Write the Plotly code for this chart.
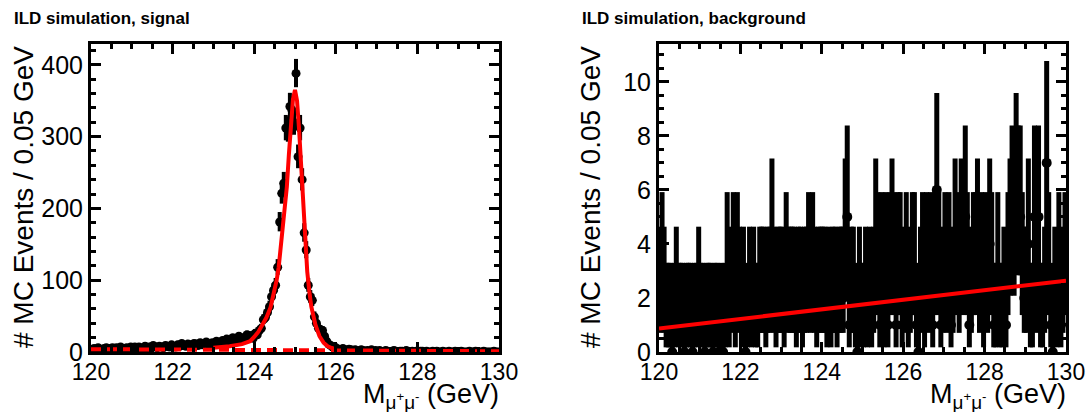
import numpy as np
import plotly.graph_objects as go

W, H = 1088, 412

# ---------------- data ----------------
bin_lo, bin_hi, bin_w = 120.0, 130.0, 0.05

signal_counts = [
    3, 5, 4, 6, 4, 3, 5, 6, 4, 5, 6, 4, 6, 5, 7, 4, 5, 6, 5, 7,
    5, 7, 6, 7, 5, 6, 8, 5, 7, 6, 9, 7, 6, 8, 7, 6, 9, 8, 7, 10,
    8, 7, 10, 8, 12, 9, 8, 11, 10, 8, 12, 11, 9, 13, 10, 12, 14, 11, 10, 13,
    12, 15, 13, 11, 16, 14, 18, 15, 17, 20, 16, 19, 22, 18, 17, 21, 24, 20, 23, 19,
    26, 24, 30, 33, 45, 48, 55, 63, 77, 86, 93, 118, 181, 221, 235, 312, 310, 342, 337, 320,
    388, 272, 312, 240, 166, 142, 93, 77, 72, 49, 40, 33, 31, 30, 22, 15, 11, 9, 7, 7,
    5, 4, 3, 5, 3, 2, 4, 3, 2, 3, 1, 2, 3, 2, 1, 2, 1, 3, 1, 2,
    1, 2, 0, 1, 2, 1, 0, 1, 2, 1, 0, 1, 1, 0, 2, 1, 0, 1, 0, 1,
    0, 1, 1, 0, 1, 0, 0, 1, 0, 1, 0, 0, 1, 0, 0, 1, 0, 0, 1, 0,
    0, 1, 0, 0, 0, 1, 0, 0, 1, 0, 0, 0, 1, 0, 0, 0, 0, 1, 0, 0,
]

background_counts = [
    2, 3, 2, 1, 1, 1, 0, 1, 2, 1, 1, 1, 0, 1, 1, 1, 0, 1, 1, 2,
    1, 1, 0, 1, 1, 1, 0, 1, 1, 0, 1, 0, 1, 3, 1, 2, 3, 1, 3, 2,
    1, 2, 0, 1, 2, 1, 2, 1, 1, 2, 2, 2, 1, 2, 2, 4, 2, 1, 2, 2,
    2, 1, 3, 2, 2, 2, 2, 1, 2, 2, 1, 2, 2, 3, 2, 3, 2, 1, 2, 2,
    2, 2, 1, 2, 1, 2, 2, 1, 2, 2, 2, 4, 5, 1, 2, 2, 1, 0, 2, 1,
    1, 2, 1, 2, 1, 2, 4, 3, 1, 3, 1, 3, 1, 3, 4, 3, 1, 3, 3, 1,
    2, 3, 1, 2, 3, 3, 1, 0, 2, 3, 1, 3, 2, 3, 1, 3, 6, 3, 1, 2,
    3, 2, 3, 1, 2, 4, 3, 2, 4, 3, 5, 3, 1, 2, 3, 3, 4, 2, 3, 1,
    3, 2, 4, 3, 1, 1, 3, 1, 1, 2, 1, 3, 4, 5, 4, 6, 5, 5, 3, 2,
    2, 4, 1, 1, 5, 2, 5, 1, 1, 2, 7, 3, 1, 0, 2, 1, 3, 1, 2, 3,
]

# fitted signal model (solid)
signal_fit_x = [123.0, 123.4, 123.7, 123.9, 124.0, 124.1, 124.2, 124.3, 124.4, 124.5,
                124.55, 124.6, 124.65, 124.7, 124.75, 124.8, 124.85, 124.9, 124.95, 125.0,
                125.05, 125.1, 125.15, 125.2, 125.25, 125.3, 125.35, 125.4, 125.5, 125.6,
                125.7, 125.8, 125.9, 126.0]
signal_fit_y = [6.0, 8.0, 11.0, 15.0, 21.0, 28.0, 38.0, 48.0, 62.0, 85.0,
                100.0, 118.0, 145.0, 165.0, 190.0, 230.0, 275.0, 318.0, 352.0, 365.0,
                350.0, 310.0, 255.0, 200.0, 150.0, 112.0, 85.0, 63.0, 38.0, 22.0,
                13.0, 8.0, 5.5, 4.0]
# dashed component across the full range
signal_comp_x = [120.0, 130.0]
signal_comp_y = [4.0, 1.0]

background_fit_x = [120.0, 130.0]
background_fit_y = [0.87, 2.64]

x_tick_vals = [120, 122, 124, 126, 128, 130]
sig_y_tick_vals = [0, 100, 200, 300, 400]
bkg_y_tick_vals = [0, 2, 4, 6, 8, 10]

panel_titles = ["ILD simulation, signal", "ILD simulation, background"]
y_title = "# MC Events / 0.05 GeV"
x_title = "M<sub>μ<sup>+</sup>μ<sup>-</sup></sub> (GeV)"

# Poisson (Garwood 68%) intervals for small counts
garwood = {0: (0.0, 1.841), 1: (0.173, 3.300), 2: (0.708, 4.638), 3: (1.367, 5.918),
           4: (2.086, 7.163), 5: (2.840, 8.382), 6: (3.620, 9.584), 7: (4.419, 10.77),
           8: (5.232, 11.95), 9: (6.057, 13.11), 10: (6.891, 14.27)}


def poisson_err(counts):
    lo, hi = [], []
    for n in counts:
        if n in garwood:
            a, b = garwood[n]
        else:
            s = np.sqrt(n + 0.25)
            a, b = n + 0.5 - s, n + 0.5 + s
        lo.append(n - a)
        hi.append(b - n)
    return lo, hi


centers = bin_lo + bin_w * (np.arange(len(signal_counts)) + 0.5)

# ---------------- figure ----------------
FONT = "Liberation Sans, Arial, Helvetica, sans-serif"
fig = go.Figure()


def add_hist(counts, xa, ya, msize, thick):
    lo, hi = poisson_err(counts)
    fig.add_trace(go.Scatter(
        x=centers, y=counts, mode="markers", xaxis=xa, yaxis=ya,
        marker=dict(color="black", size=msize, symbol="circle"),
        error_y=dict(type="data", symmetric=False, array=hi, arrayminus=lo,
                     color="black", thickness=thick, width=0),
        error_x=dict(type="constant", value=bin_w / 2, color="black", thickness=thick, width=0),
        showlegend=False, hoverinfo="skip", cliponaxis=True,
    ))


add_hist(signal_counts, "x", "y", 9, 4)
fig.add_trace(go.Scatter(x=signal_comp_x, y=signal_comp_y, mode="lines", xaxis="x", yaxis="y",
                         line=dict(color="#ff0000", width=4, dash="10px,6px"), showlegend=False))
fig.add_trace(go.Scatter(x=signal_fit_x, y=signal_fit_y, mode="lines", xaxis="x", yaxis="y",
                         line=dict(color="#ff0000", width=4), showlegend=False))

add_hist(background_counts, "x2", "y2", 10, 5)
fig.add_trace(go.Scatter(x=background_fit_x, y=background_fit_y, mode="lines", xaxis="x2", yaxis="y2",
                         line=dict(color="#ff0000", width=4), showlegend=False))


def px(xp):
    return xp / W


def py(yp):
    return 1 - yp / H


frame_top, frame_bot = 44, 352
left_dom = [px(91), px(499)]
right_dom = [px(659), px(1066)]

common = dict(showline=True, linewidth=3, linecolor="black", mirror="ticks",
              ticks="inside", ticklen=10, tickwidth=3, tickcolor="black",
              showgrid=False, zeroline=False, automargin=False)
xfont = dict(family=FONT, size=23, color="black")
yfont = dict(family=FONT, size=25, color="black")

fig.update_layout(
    width=W, height=H, margin=dict(l=0, r=0, t=0, b=0, autoexpand=False),
    paper_bgcolor="white", plot_bgcolor="white",
    xaxis=dict(domain=left_dom, range=[bin_lo, bin_hi], anchor="y", tickvals=x_tick_vals,
               tickfont=xfont, ticklabelstandoff=-3,
               minor=dict(ticks="inside", ticklen=5, tickwidth=3, tickcolor="black", dtick=0.5, tick0=120),
               **common),
    yaxis=dict(domain=[py(frame_bot), py(frame_top)], range=[0, 429], anchor="x", tickvals=sig_y_tick_vals,
               tickfont=yfont,
               minor=dict(ticks="inside", ticklen=5, tickwidth=3, tickcolor="black", dtick=20, tick0=0),
               **common),
    xaxis2=dict(domain=right_dom, range=[bin_lo, bin_hi], anchor="y2", tickvals=x_tick_vals,
                tickfont=xfont, ticklabelstandoff=-3,
                minor=dict(ticks="inside", ticklen=5, tickwidth=3, tickcolor="black", dtick=0.5, tick0=120),
                **common),
    yaxis2=dict(domain=[py(frame_bot), py(frame_top)], range=[0, 11.4], anchor="x2", tickvals=bkg_y_tick_vals,
                tickfont=yfont,
                minor=dict(ticks="inside", ticklen=5, tickwidth=3, tickcolor="black", dtick=0.5, tick0=0),
                **common),
)

annotations = []
for title, tx, ytx, xr in [(panel_titles[0], 12, 24, 501), (panel_titles[1], 580, 591, 1068)]:
    annotations.append(dict(text="<b>" + title + "</b>", x=px(tx), y=py(30), xref="paper", yref="paper",
                            xanchor="left", yanchor="bottom", showarrow=False,
                            font=dict(family=FONT, size=17, color="black")))
    annotations.append(dict(text=y_title, x=px(ytx), y=py(frame_top), xref="paper", yref="paper",
                            xanchor="center", yanchor="top", textangle=-90, showarrow=False,
                            font=dict(family=FONT, size=28, color="black")))
    annotations.append(dict(text=x_title, x=px(xr), y=py(377), xref="paper", yref="paper",
                            xanchor="right", yanchor="top", showarrow=False,
                            font=dict(family=FONT, size=27, color="black")))
fig.update_layout(annotations=annotations)

fig.write_html("out.html")
